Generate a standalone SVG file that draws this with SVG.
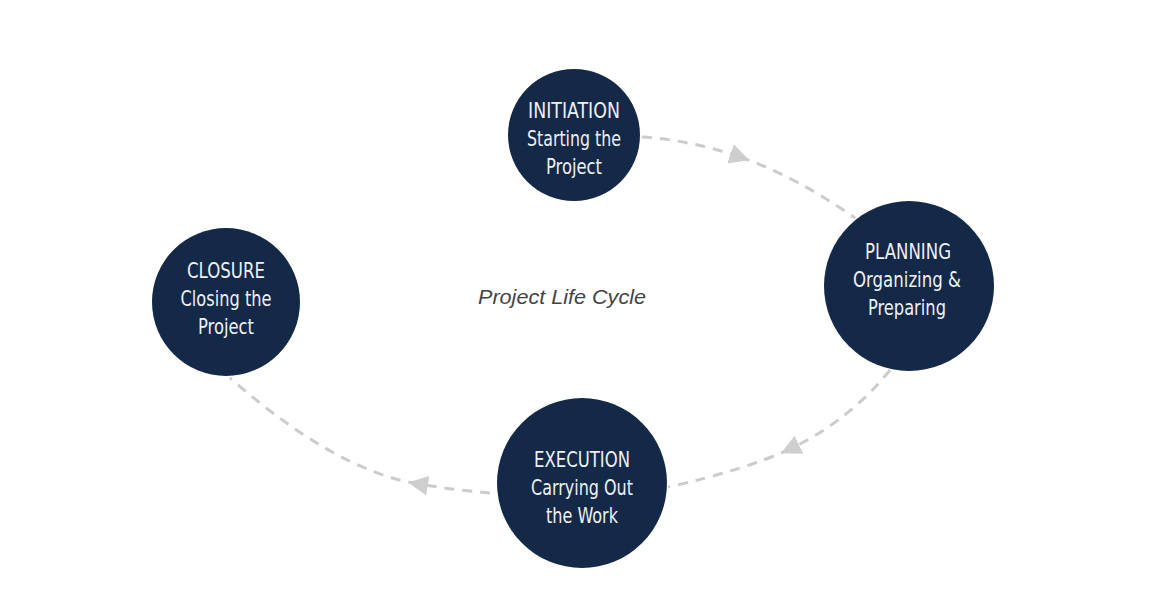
<svg xmlns="http://www.w3.org/2000/svg" width="1155" height="593" viewBox="0 0 1155 593">
<style>
.node{fill:#142847}
.lbl{font-family:"Liberation Sans Narrow","DejaVu Sans Condensed","Liberation Sans",sans-serif;font-stretch:condensed;font-size:21px;fill:#eef1f5;text-anchor:middle}
.conn{fill:none;stroke:#cccccc;stroke-width:3;stroke-dasharray:10 8}
.title{font-family:"Liberation Sans",Arial,sans-serif;font-style:italic;font-size:21px;fill:#444444;text-anchor:middle}
</style>
<defs>
<marker id="arr" markerUnits="userSpaceOnUse" markerWidth="20" markerHeight="20" viewBox="0 0 18 18" refX="9" refY="9" orient="auto">
<path d="M0,0 L18,9 L0,18 z" fill="#cfcfcf"/>
</marker>
</defs>
<rect width="1155" height="593" fill="#ffffff"/>
<g id="connectors">
<path class="conn" d="M642,137 Q690,140 740,157" marker-end="url(#arr)"/>
<path class="conn" d="M740,157 Q795,176 855,218"/>
<path class="conn" d="M890,370 Q850,420 790,449" marker-end="url(#arr)"/>
<path class="conn" d="M790,449 Q745,470 668,487"/>
<path class="conn" d="M490,493 Q455,490 418,484" marker-end="url(#arr)"/>
<path class="conn" d="M418,484 Q335,470 230,378"/>
</g>
<g id="initiation">
<circle class="node" cx="574" cy="135" r="66"/>
<text class="lbl" x="574" y="118" textLength="92" lengthAdjust="spacingAndGlyphs">INITIATION</text>
<text class="lbl" x="574" y="146" textLength="94" lengthAdjust="spacingAndGlyphs">Starting the</text>
<text class="lbl" x="574" y="174" textLength="56" lengthAdjust="spacingAndGlyphs">Project</text>
</g>
<g id="planning">
<circle class="node" cx="909" cy="286" r="85"/>
<text class="lbl" x="908" y="259" textLength="86" lengthAdjust="spacingAndGlyphs">PLANNING</text>
<text class="lbl" x="907" y="287" textLength="108" lengthAdjust="spacingAndGlyphs">Organizing &amp;</text>
<text class="lbl" x="907" y="315" textLength="78" lengthAdjust="spacingAndGlyphs">Preparing</text>
</g>
<g id="execution">
<circle class="node" cx="582" cy="483" r="85"/>
<text class="lbl" x="582" y="467" textLength="96" lengthAdjust="spacingAndGlyphs">EXECUTION</text>
<text class="lbl" x="582" y="495" textLength="102" lengthAdjust="spacingAndGlyphs">Carrying Out</text>
<text class="lbl" x="582" y="523" textLength="72" lengthAdjust="spacingAndGlyphs">the Work</text>
</g>
<g id="closure">
<circle class="node" cx="226" cy="302" r="74"/>
<text class="lbl" x="226" y="278" textLength="78" lengthAdjust="spacingAndGlyphs">CLOSURE</text>
<text class="lbl" x="226" y="306" textLength="91" lengthAdjust="spacingAndGlyphs">Closing the</text>
<text class="lbl" x="226" y="334" textLength="56" lengthAdjust="spacingAndGlyphs">Project</text>
</g>
<g id="title">
<text class="title" x="562" y="304" textLength="168" lengthAdjust="spacingAndGlyphs">Project Life Cycle</text>
</g>
</svg>
